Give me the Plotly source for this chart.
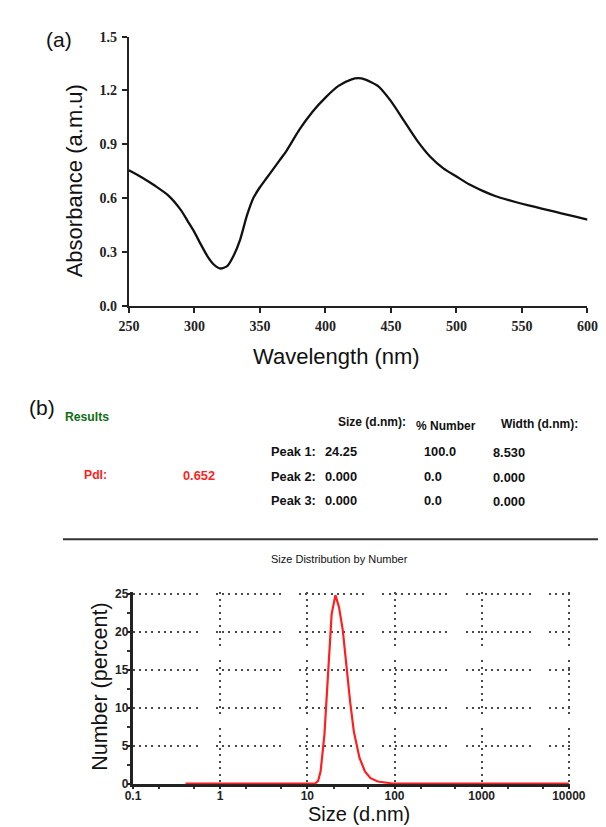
import plotly.graph_objects as go

W, H = 606, 827

# ---- (a) UV-vis data ----
wavelength = [250, 260, 270, 280, 290, 295, 300, 305, 310, 315, 320, 325, 330, 335, 340, 345,
              350, 355, 360, 365, 370, 375, 380, 390, 400, 410, 420, 425, 430, 440, 450, 460,
              470, 480, 490, 500, 510, 520, 530, 540, 550, 560, 570, 580, 590, 600]
absorbance = [0.755, 0.715, 0.668, 0.615, 0.53, 0.47, 0.41, 0.34, 0.275, 0.228, 0.207, 0.22,
              0.28, 0.37, 0.50, 0.60, 0.66, 0.71, 0.76, 0.81, 0.86, 0.92, 0.98, 1.08, 1.16,
              1.225, 1.262, 1.268, 1.262, 1.225, 1.14, 1.03, 0.92, 0.83, 0.765, 0.72, 0.675,
              0.64, 0.61, 0.588, 0.568, 0.55, 0.532, 0.515, 0.498, 0.48]
a_xticks = [250, 300, 350, 400, 450, 500, 550, 600]
a_yticks = [0.0, 0.3, 0.6, 0.9, 1.2, 1.5]
a_yticktext = ["0.0", "0.3", "0.6", "0.9", "1.2", "1.5"]

# ---- (b) DLS data ----
size_nm = [0.4, 1, 10, 12.3, 13.3, 14.2, 15.7, 17.3, 19.0, 21.0, 23.1, 25.5, 28.1, 31.0,
           34.2, 39.6, 45.8, 53.0, 64.4, 82.2, 95.3, 1000, 10000]
number_pct = [0, 0, 0, 0, 0.34, 1.6, 6.4, 14.6, 22.3, 24.8, 23.2, 20.2, 15.0, 10.7, 6.8,
              3.4, 1.6, 0.7, 0.26, 0.04, 0, 0, 0]
b_xticks = [0.1, 1, 10, 100, 1000, 10000]
b_xticktext = ["0.1", "1", "10", "100", "1000", "10000"]
b_yticks = [0, 5, 10, 15, 20, 25]

# ---- results table ----
table_header = ["Size (d.nm):", "% Number", "Width (d.nm):"]
peak_labels = ["Peak 1:", "Peak 2:", "Peak 3:"]
peak_size = ["24.25", "0.000", "0.000"]
peak_number = ["100.0", "0.0", "0.0"]
peak_width = ["8.530", "0.000", "0.000"]
pdi_label = "PdI:"
pdi_value = "0.652"


def px(x):
    return x / W


def py(y):
    return 1 - y / H


def dotted_dash(n_dots, dot, gap, end_gap):
    parts = []
    for i in range(n_dots):
        parts.append(f"{dot}px")
        parts.append(f"{gap if i < n_dots - 1 else end_gap}px")
    return ",".join(parts)


# Malvern-style broken dotted grid
h_grid_dash = dotted_dash(11, 2, 4.3, 18.3)   # horizontal lines (period ~83 px)
v_grid_dash = dotted_dash(9, 2, 4.5, 14)      # vertical lines (period ~68 px)

# bottom panel: pixel placement of the first / last decade and of 0 / 25 %
b_xr = [-1.005, 4.015]
b_yr = [-0.1, 25.2]
x_lo_px, x_hi_px = 119.3, 575.5     # 0.1 and 10000
y_lo_px, y_hi_px = 782.7, 589.3     # 0 and 25
dec_px = (x_hi_px - x_lo_px) / 5.0
unit_px = (y_lo_px - y_hi_px) / 25.0
b_xdom = [px(x_lo_px + (b_xr[0] + 1) * dec_px), px(x_hi_px + (b_xr[1] - 4) * dec_px)]
b_ydom = [py(y_lo_px - b_yr[0] * unit_px), py(y_hi_px - (b_yr[1] - 25) * unit_px)]

fig = go.Figure()

fig.add_trace(go.Scatter(x=wavelength, y=absorbance, mode="lines",
                         line=dict(color="#111111", width=2.3, shape="spline", smoothing=0.6),
                         xaxis="x", yaxis="y", showlegend=False, hoverinfo="skip"))

fig.add_trace(go.Scatter(x=size_nm, y=number_pct, mode="lines",
                         line=dict(color="#ff1f1f", width=2.2),
                         xaxis="x2", yaxis="y2", showlegend=False, hoverinfo="skip"))

serif_bold = dict(family="Liberation Serif", size=14, color="#222222", weight="bold")
sans_bold_small = dict(family="Liberation Sans", size=12, color="#222222", weight="bold")

fig.update_layout(
    width=W, height=H,
    margin=dict(l=0, r=0, t=0, b=0),
    paper_bgcolor="white", plot_bgcolor="white",
    xaxis=dict(domain=[px(115), px(595)], range=[250, 600], anchor="y",
               tickvals=a_xticks, ticks="outside", ticklen=5, tickwidth=2, tickcolor="#222",
               ticklabelstandoff=2,
               showline=True, linewidth=2, linecolor="#222", showgrid=False, zeroline=False,
               tickfont=serif_bold),
    yaxis=dict(domain=[py(296), py(22)], range=[0, 1.5], anchor="x",
               tickvals=a_yticks, ticktext=a_yticktext, ticks="outside", ticklen=5,
               tickwidth=2, tickcolor="#222", ticklabelstandoff=2,
               showline=True, linewidth=2, linecolor="#222", showgrid=False, zeroline=False,
               tickfont=serif_bold),
    xaxis2=dict(domain=b_xdom, type="log", range=b_xr, anchor="y2",
                tickvals=b_xticks, ticktext=b_xticktext, ticks="outside", ticklen=2,
                tickwidth=2, tickcolor="#222", ticklabelstandoff=-3,
                minor=dict(ticks="outside", ticklen=2, tickwidth=2, tickcolor="#333",
                           showgrid=False),
                showline=True, linewidth=2.5, linecolor="#222", layer="below traces",
                showgrid=True, gridcolor="#4a4a4a", griddash=v_grid_dash, gridwidth=2,
                zeroline=False, tickfont=sans_bold_small),
    yaxis2=dict(domain=b_ydom, range=b_yr, anchor="x2",
                tickvals=b_yticks, ticks="outside", ticklen=2, tickwidth=2, tickcolor="#222",
                ticklabelstandoff=-3,
                minor=dict(dtick=2.5, ticks="outside", ticklen=3, tickwidth=2,
                           tickcolor="#333", showgrid=False),
                showline=True, linewidth=2.5, linecolor="#222", layer="below traces",
                showgrid=True, gridcolor="#4a4a4a", griddash=h_grid_dash, gridwidth=2,
                zeroline=False, tickfont=sans_bold_small),
)

ann = []


def add_text(x, y, text, size, color="#111111", bold=False, family="Liberation Sans",
             xanchor="left", angle=0, yanchor="middle"):
    ann.append(dict(x=px(x), y=py(y), xref="paper", yref="paper", text=text,
                    showarrow=False, xanchor=xanchor, yanchor=yanchor, textangle=angle,
                    font=dict(family=family, size=size, color=color,
                              weight="bold" if bold else "normal")))


# panel labels and axis titles
add_text(26, 25, "(a)", 21)
add_text(8, 400, "(b)", 21)
add_text(59, 169, "Absorbance (a.m.u)", 22, xanchor="center", angle=-90)
add_text(332, 348, "Wavelength (nm)", 22, xanchor="center")
add_text(84, 684, "Number (percent)", 21.5, xanchor="center", angle=-90)
add_text(356, 827, "Size (d.nm)", 20, xanchor="center", yanchor="bottom")

# results block
add_text(46, 409, "Results", 12.2, color="#0d6e12", bold=True)
add_text(66, 469, pdi_label, 12.2, color="#ff1f1f", bold=True)
add_text(170, 469, pdi_value, 12.8, color="#ff1f1f", bold=True)
header_x = [332, 413, 502]
header_y = [415, 419, 417]
for x, y, t in zip(header_x, header_y, table_header):
    add_text(x, y, t, 12, bold=True)
row_y = [445, 470, 494]
for i in range(3):
    add_text(262, row_y[i], peak_labels[i], 12.8, bold=True)
    add_text(318, row_y[i], peak_size[i], 12.8, bold=True)
    add_text(421.5, row_y[i], peak_number[i], 12.8, bold=True)
    add_text(494, row_y[i] + 1, peak_width[i], 12.8, bold=True)
add_text(262, 554, "Size Distribution by Number", 11)

fig.update_layout(annotations=ann)

fig.add_shape(type="line", xref="paper", yref="paper", x0=px(46), x1=1.0, y0=py(534), y1=py(534),
              line=dict(color="#333333", width=2))

fig.write_html("out.html")
